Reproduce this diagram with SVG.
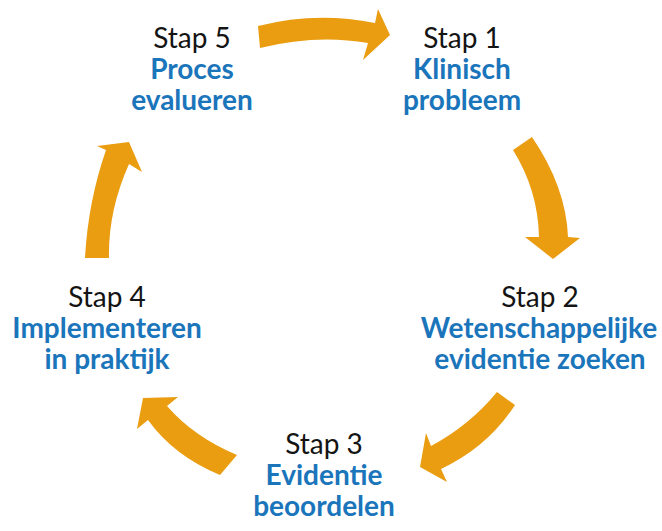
<svg xmlns="http://www.w3.org/2000/svg" width="662" height="531" viewBox="0 0 662 531">
<style>
.bg{fill:#ffffff}
.arrow{fill:#EA9D10;stroke:none}
.t{font-family:Lato,"Open Sans","Noto Sans",sans-serif;font-size:28px;text-anchor:middle}
.step{fill:#141414;font-weight:400}
.lbl{fill:#1B75BB;font-weight:700}
</style>
<rect class="bg" x="0" y="0" width="662" height="531"/>
<g id="connectors">
  <path id="a51" class="arrow" d="M258,26 Q316,11 375,23 L378,9 L390,35 L363,60 L368,43 Q316,34 260,48 Z"/>
  <path id="a12" class="arrow" d="M513,150 Q538,190 539,237 L525,237 L553,259 L580,238 L568,237 Q566,187 532,137 Z"/>
  <path id="a23" class="arrow" d="M497,392 Q470,425 431,446 L426,433 L420,467 L447,482 L441,469 Q488,447 515,405 Z"/>
  <path id="a34" class="arrow" d="M237,455 Q194,437 167,406 L178,397 L143,398 L137,429 L148,420 Q174,456 220,475 Z"/>
  <path id="a45" class="arrow" d="M85,258 Q88,202 106,150 L97,146 L129,142 L142,172 L129,164 Q108,211 109,258 Z"/>
</g>
<g id="stap5">
  <text class="t step" x="192" y="48">Stap 5</text>
  <text class="t lbl" x="192" y="79">Proces</text>
  <text class="t lbl" x="192" y="110">evalueren</text>
</g>
<g id="stap1">
  <text class="t step" x="462" y="48">Stap 1</text>
  <text class="t lbl" x="462" y="79">Klinisch</text>
  <text class="t lbl" x="462" y="110">probleem</text>
</g>
<g id="stap2">
  <text class="t step" x="540" y="307">Stap 2</text>
  <text class="t lbl" x="539" y="338">Wetenschappelijke</text>
  <text class="t lbl" x="540" y="369">evidentie zoeken</text>
</g>
<g id="stap3">
  <text class="t step" x="324" y="454">Stap 3</text>
  <text class="t lbl" x="324" y="485">Evidentie</text>
  <text class="t lbl" x="324" y="516">beoordelen</text>
</g>
<g id="stap4">
  <text class="t step" x="107" y="307">Stap 4</text>
  <text class="t lbl" x="107" y="338">Implementeren</text>
  <text class="t lbl" x="107" y="369">in praktijk</text>
</g>
</svg>
